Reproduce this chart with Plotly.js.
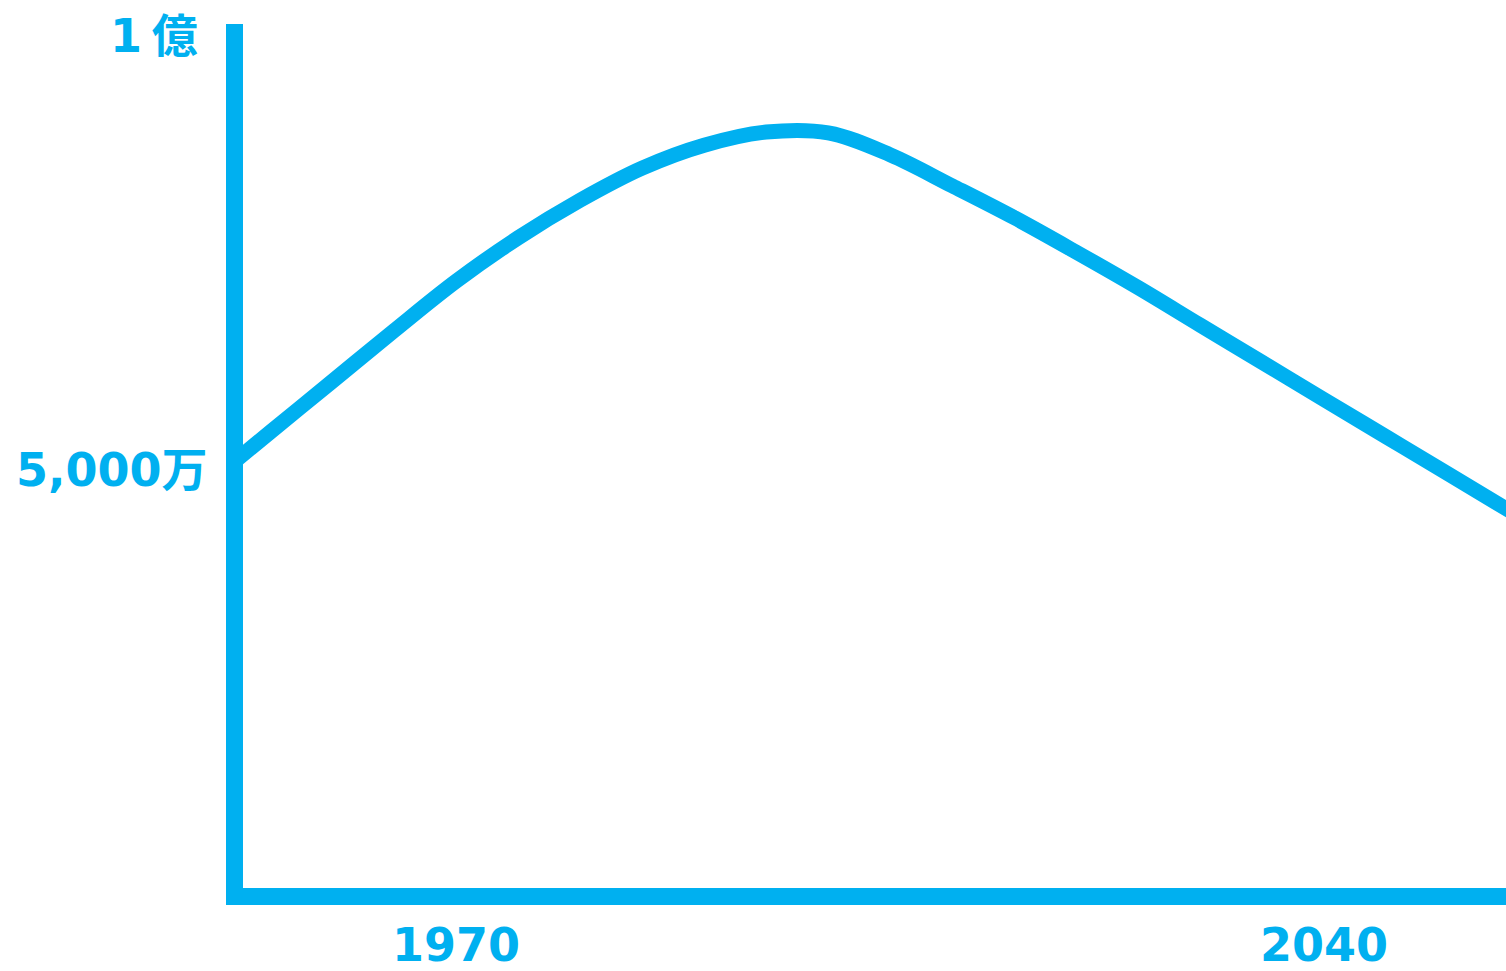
<!DOCTYPE html>
<html>
<head>
<meta charset="utf-8">
<script src="https://cdn.plot.ly/plotly-3.0.1.min.js"></script>
<style>html,body{margin:0;padding:0;background:#fff;}#chart{width:1506px;height:971px;}</style>
</head>
<body>
<div id="chart"></div>
<script>
// Years and population (unit: 万人)
const years = [1950, 1955, 1960, 1965, 1970, 1975, 1980, 1985, 1990, 1995, 2000, 2005, 2010, 2015, 2020, 2025, 2030, 2035, 2040, 2045, 2050, 2055];
const population = [4846, 5433, 6018, 6604, 7174, 7674, 8107, 8477, 8741, 8893, 8884, 8630, 8273, 7906, 7509, 7099, 6667, 6238, 5808, 5380, 4952, 4523];

const xTickVals = [1970, 2040];
const xTickText = ['1970', '2040'];
const yTickVals = [10000, 5000];
const yTickText = ['1 億', '5,000万'];

const BLUE = '#00B0F0';
const FONT = 'DejaVu Sans, "Noto Sans CJK JP", sans-serif';

const annotations = [];
xTickVals.forEach((v, i) => annotations.push({
  x: v, xref: 'x', y: -0.066, yref: 'paper', text: '<b>' + xTickText[i] + '</b>',
  showarrow: false, xanchor: 'center', yanchor: 'middle',
  font: {family: FONT, size: 46, color: BLUE}
}));
const yLabelRight = [-0.0340, -0.0261];
yTickVals.forEach((v, i) => annotations.push({
  x: yLabelRight[i], xref: 'paper', y: v, yref: 'y',
  text: '<b>' + yTickText[i].replace(' ', '<span style="font-size:28px"> </span>') + '</b>',
  showarrow: false, xanchor: 'right', yanchor: 'middle',
  font: {family: FONT, size: 46, color: BLUE}
}));

const trace = {
  x: years, y: population, type: 'scatter', mode: 'lines',
  line: {color: BLUE, width: 15, shape: 'spline', smoothing: 1},
  hoverinfo: 'none'
};

const layout = {
  width: 1506, height: 971,
  margin: {l: 243, r: 0, t: 24, b: 83, pad: 0},
  paper_bgcolor: '#ffffff', plot_bgcolor: '#ffffff',
  showlegend: false,
  xaxis: {range: [1952.83, 2054.63], showgrid: false, zeroline: false, showticklabels: false, ticks: '',
          showline: true, linecolor: BLUE, linewidth: 17},
  yaxis: {range: [184, 10138], showgrid: false, zeroline: false, showticklabels: false, ticks: '',
          showline: true, linecolor: BLUE, linewidth: 17},
  annotations: annotations
};

Plotly.newPlot('chart', [trace], layout, {staticPlot: true, displayModeBar: false});
</script>
</body>
</html>
